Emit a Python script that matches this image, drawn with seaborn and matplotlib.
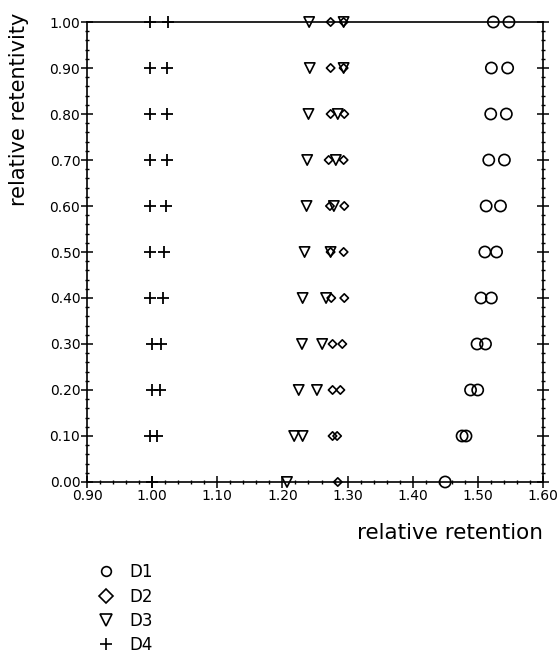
import numpy as np
import pandas as pd
import matplotlib
matplotlib.use("Agg")
import matplotlib.pyplot as plt
from matplotlib.lines import Line2D
from matplotlib.ticker import MultipleLocator, FormatStrFormatter
import seaborn as sns

# ---- data ----
rows = [0.10, 0.20, 0.30, 0.40, 0.50, 0.60, 0.70, 0.80, 0.90, 1.00]

d1_left  = [1.476, 1.489, 1.499, 1.505, 1.511, 1.513, 1.517, 1.520, 1.521, 1.524]
d1_right = [1.482, 1.500, 1.512, 1.521, 1.529, 1.535, 1.541, 1.544, 1.546, 1.548]
d1_zero  = 1.450

d2_left  = [1.277, 1.277, 1.277, 1.275, 1.274, 1.273, 1.271, 1.274, 1.274, 1.274]
d2_right = [1.284, 1.289, 1.292, 1.295, 1.294, 1.295, 1.294, 1.295, 1.294, 1.294]
d2_zero  = 1.285

d3_left  = [1.218, 1.225, 1.230, 1.231, 1.234, 1.237, 1.238, 1.240, 1.242, 1.241]
d3_right = [1.231, 1.253, 1.261, 1.267, 1.274, 1.279, 1.282, 1.285, 1.294, 1.294]
d3_zero  = 1.207

d4_left  = [0.996, 0.999, 0.999, 0.997, 0.997, 0.997, 0.997, 0.997, 0.997, 0.997]
d4_right = [1.007, 1.012, 1.013, 1.016, 1.018, 1.021, 1.022, 1.022, 1.023, 1.024]
d4_zero  = 1.000

series_names = ["D1", "D2", "D3", "D4"]
x_ticks = [0.90, 1.00, 1.10, 1.20, 1.30, 1.40, 1.50, 1.60]
y_ticks = [0.00, 0.10, 0.20, 0.30, 0.40, 0.50, 0.60, 0.70, 0.80, 0.90, 1.00]

def series_frame(name, left, right, zero):
    xs = [zero] + list(left) + list(right)
    ys = [0.0] + list(rows) + list(rows)
    return pd.DataFrame({"x": xs, "y": ys, "series": name})

df = pd.concat([
    series_frame("D1", d1_left, d1_right, d1_zero),
    series_frame("D2", d2_left, d2_right, d2_zero),
    series_frame("D3", d3_left, d3_right, d3_zero),
    series_frame("D4", d4_left, d4_right, d4_zero),
], ignore_index=True)

# ---- plotting ----
sns.set_theme(style="ticks")
plt.rcParams["font.family"] = ["DejaVu Sans"]
plt.rcParams["text.color"] = "black"
plt.rcParams["axes.labelcolor"] = "black"
plt.rcParams["xtick.color"] = "black"
plt.rcParams["ytick.color"] = "black"

fig = plt.figure(figsize=(5.59, 6.59), dpi=100)
ax = fig.add_axes([0.156, 0.2686, 0.815, 0.698])

styles = {
    "D1": dict(marker="o", s=65),
    "D2": dict(marker="D", s=18),
    "D3": dict(marker="v", s=55),
    "D4": dict(marker="+", s=65),
}
for name in series_names:
    sub = df[df["series"] == name]
    st = styles[name]
    if st["marker"] == "+":
        sns.scatterplot(data=sub, x="x", y="y", marker="+", s=st["s"],
                        color="black", linewidth=1.3, ax=ax, zorder=3,
                        clip_on=False)
    else:
        sns.scatterplot(data=sub, x="x", y="y", marker=st["marker"], s=st["s"],
                        facecolor="none", edgecolor="black", linewidth=1.2,
                        ax=ax, zorder=3, clip_on=False)

ax.set_xlim(0.90, 1.60)
ax.set_ylim(0.0, 1.0)
ax.set_xticks(x_ticks)
ax.set_yticks(y_ticks)
ax.xaxis.set_major_formatter(FormatStrFormatter("%.2f"))
ax.yaxis.set_major_formatter(FormatStrFormatter("%.2f"))
ax.xaxis.set_minor_locator(MultipleLocator(0.02))
ax.yaxis.set_minor_locator(MultipleLocator(0.02))

for sp in ax.spines.values():
    sp.set_color("black")
    sp.set_linewidth(1.2)

ax.tick_params(axis="both", which="major", direction="inout", length=8,
               width=1.1, color="black", labelcolor="black", labelsize=10, pad=1)
ax.tick_params(axis="both", which="minor", direction="inout", length=3,
               width=1.0, color="black")
ax.tick_params(axis="y", which="both", right=True, labelright=False)
ax.tick_params(axis="x", which="both", top=False)

ax.set_xlabel("relative retention", fontsize=15.5, loc="right", color="black")
ax.xaxis.set_label_coords(1.0, -0.09)
ax.set_ylabel("relative retentivity", fontsize=15, color="black")
ax.yaxis.set_label_coords(-0.15, 0.81)
ax.yaxis.label.set_verticalalignment("center")

handles = [
    Line2D([], [], linestyle="none", marker="o", markersize=7,
           markerfacecolor="none", markeredgecolor="black", markeredgewidth=1.2),
    Line2D([], [], linestyle="none", marker="D", markersize=7,
           markerfacecolor="none", markeredgecolor="black", markeredgewidth=1.2),
    Line2D([], [], linestyle="none", marker="v", markersize=8,
           markerfacecolor="none", markeredgecolor="black", markeredgewidth=1.2),
    Line2D([], [], linestyle="none", marker="+", markersize=9,
           color="black", markeredgewidth=1.2),
]
leg = fig.legend(handles, series_names, loc="upper left",
                 bbox_to_anchor=(0.16, 0.158), bbox_transform=fig.transFigure,
                 frameon=False, fontsize=12, labelspacing=0.38, handletextpad=0.9,
                 handlelength=1.0, borderpad=0.0)
for t in leg.get_texts():
    t.set_color("black")

fig.savefig("out.png", dpi=100)
